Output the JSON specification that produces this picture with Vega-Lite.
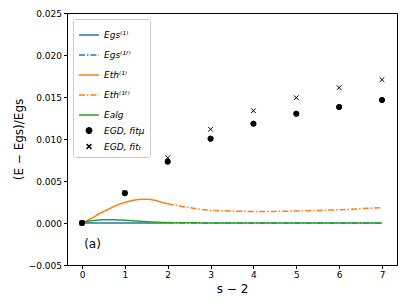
{
  "$schema": "https://vega.github.io/schema/vega-lite/v6.json",
  "width": 330,
  "height": 252,
  "autosize": {"type": "none"},
  "padding": {"left": 67, "top": 13, "right": 10, "bottom": 40},
  "config": {
    "font": "DejaVu Sans",
    "view": {"stroke": "black", "strokeWidth": 1},
    "axis": {
      "grid": false,
      "domainColor": "black",
      "tickColor": "black",
      "labelColor": "black",
      "titleColor": "black",
      "labelFont": "DejaVu Sans",
      "titleFont": "DejaVu Sans",
      "labelFontSize": 9,
      "titleFontSize": 12,
      "titleFontWeight": "normal",
      "tickSize": 3.5,
      "labelPadding": 2
    }
  },
  "datasets": {
    "lines": [
      {"series": "Egs⁽¹⁾", "x": 0, "y": 0},
      {"series": "Egs⁽¹⁾", "x": 2, "y": 0},
      {"series": "Egs⁽¹ᶠ⁾", "x": 2, "y": 0},
      {"series": "Egs⁽¹ᶠ⁾", "x": 7, "y": 0},
      {"series": "Eth⁽¹⁾", "x": 0, "y": 0},
      {"series": "Eth⁽¹⁾", "x": 0.1, "y": 0.00025},
      {"series": "Eth⁽¹⁾", "x": 0.2, "y": 0.0005},
      {"series": "Eth⁽¹⁾", "x": 0.3, "y": 0.0008},
      {"series": "Eth⁽¹⁾", "x": 0.4, "y": 0.0011},
      {"series": "Eth⁽¹⁾", "x": 0.5, "y": 0.00135},
      {"series": "Eth⁽¹⁾", "x": 0.6, "y": 0.0016},
      {"series": "Eth⁽¹⁾", "x": 0.7, "y": 0.00185},
      {"series": "Eth⁽¹⁾", "x": 0.8, "y": 0.0021},
      {"series": "Eth⁽¹⁾", "x": 0.9, "y": 0.0023},
      {"series": "Eth⁽¹⁾", "x": 1.0, "y": 0.00245},
      {"series": "Eth⁽¹⁾", "x": 1.1, "y": 0.0026},
      {"series": "Eth⁽¹⁾", "x": 1.2, "y": 0.00271},
      {"series": "Eth⁽¹⁾", "x": 1.3, "y": 0.00279},
      {"series": "Eth⁽¹⁾", "x": 1.4, "y": 0.00283},
      {"series": "Eth⁽¹⁾", "x": 1.5, "y": 0.00284},
      {"series": "Eth⁽¹⁾", "x": 1.6, "y": 0.0028},
      {"series": "Eth⁽¹⁾", "x": 1.7, "y": 0.0027},
      {"series": "Eth⁽¹⁾", "x": 1.8, "y": 0.00256},
      {"series": "Eth⁽¹⁾", "x": 1.9, "y": 0.00241},
      {"series": "Eth⁽¹⁾", "x": 2.0, "y": 0.00228},
      {"series": "Eth⁽¹ᶠ⁾", "x": 2.0, "y": 0.00228},
      {"series": "Eth⁽¹ᶠ⁾", "x": 2.2, "y": 0.0021},
      {"series": "Eth⁽¹ᶠ⁾", "x": 2.4, "y": 0.0019},
      {"series": "Eth⁽¹ᶠ⁾", "x": 2.6, "y": 0.00175},
      {"series": "Eth⁽¹ᶠ⁾", "x": 2.8, "y": 0.0016},
      {"series": "Eth⁽¹ᶠ⁾", "x": 3.0, "y": 0.0015},
      {"series": "Eth⁽¹ᶠ⁾", "x": 3.5, "y": 0.00142},
      {"series": "Eth⁽¹ᶠ⁾", "x": 4.0, "y": 0.00137},
      {"series": "Eth⁽¹ᶠ⁾", "x": 4.5, "y": 0.00138},
      {"series": "Eth⁽¹ᶠ⁾", "x": 5.0, "y": 0.00143},
      {"series": "Eth⁽¹ᶠ⁾", "x": 5.5, "y": 0.0015},
      {"series": "Eth⁽¹ᶠ⁾", "x": 6.0, "y": 0.00158},
      {"series": "Eth⁽¹ᶠ⁾", "x": 6.5, "y": 0.0017},
      {"series": "Eth⁽¹ᶠ⁾", "x": 7.0, "y": 0.00183},
      {"series": "Ealg", "x": 0, "y": 0},
      {"series": "Ealg", "x": 0.2, "y": 0.00025},
      {"series": "Ealg", "x": 0.4, "y": 0.00037},
      {"series": "Ealg", "x": 0.6, "y": 0.0004},
      {"series": "Ealg", "x": 0.8, "y": 0.00038},
      {"series": "Ealg", "x": 1.0, "y": 0.00033},
      {"series": "Ealg", "x": 1.2, "y": 0.00026},
      {"series": "Ealg", "x": 1.4, "y": 0.00019},
      {"series": "Ealg", "x": 1.6, "y": 0.00013},
      {"series": "Ealg", "x": 1.8, "y": 0.00008},
      {"series": "Ealg", "x": 2.0, "y": 0.00005},
      {"series": "Ealg", "x": 2.5, "y": 0.00002},
      {"series": "Ealg", "x": 3.0, "y": 0.00001},
      {"series": "Ealg", "x": 4.0, "y": 0.00001},
      {"series": "Ealg", "x": 5.0, "y": 0.00001},
      {"series": "Ealg", "x": 6.0, "y": 0.00001},
      {"series": "Ealg", "x": 7.0, "y": 0.00001}
    ],
    "points": [
      {"series": "EGD, fitμ", "x": 0, "y": 0},
      {"series": "EGD, fitμ", "x": 1, "y": 0.00355},
      {"series": "EGD, fitμ", "x": 2, "y": 0.0073},
      {"series": "EGD, fitμ", "x": 3, "y": 0.01004},
      {"series": "EGD, fitμ", "x": 4, "y": 0.01182},
      {"series": "EGD, fitμ", "x": 5, "y": 0.01301},
      {"series": "EGD, fitμ", "x": 6, "y": 0.01381},
      {"series": "EGD, fitμ", "x": 7, "y": 0.01464},
      {"series": "EGD, fitₜ", "x": 0, "y": 0},
      {"series": "EGD, fitₜ", "x": 1, "y": 0.0036},
      {"series": "EGD, fitₜ", "x": 2, "y": 0.00777},
      {"series": "EGD, fitₜ", "x": 3, "y": 0.01115},
      {"series": "EGD, fitₜ", "x": 4, "y": 0.01337},
      {"series": "EGD, fitₜ", "x": 5, "y": 0.01492},
      {"series": "EGD, fitₜ", "x": 6, "y": 0.01611},
      {"series": "EGD, fitₜ", "x": 7, "y": 0.01706}
    ],
    "labels": [
      {"label": "(a)", "x": 0.05, "y": -0.0025}
    ]
  },
  "encoding": {
    "x": {
      "field": "x", "type": "quantitative",
      "scale": {"domain": [-0.35, 7.35], "nice": false, "zero": false},
      "axis": {"values": [0, 1, 2, 3, 4, 5, 6, 7], "title": "s − 2", "titlePadding": 4, "format": "d"}
    },
    "y": {
      "field": "y", "type": "quantitative",
      "scale": {"domain": [-0.005, 0.025], "nice": false, "zero": false},
      "axis": {"values": [-0.005, 0, 0.005, 0.01, 0.015, 0.02, 0.025], "format": ".3f", "title": "(E − Egs)/Egs", "titlePadding": 3}
    }
  },
  "layer": [
    {
      "data": {"name": "lines"},
      "mark": {"type": "line", "strokeWidth": 1.5},
      "encoding": {
        "color": {
          "field": "series", "type": "nominal",
          "scale": {
            "domain": ["Egs⁽¹⁾", "Egs⁽¹ᶠ⁾", "Eth⁽¹⁾", "Eth⁽¹ᶠ⁾", "Ealg", "EGD, fitμ", "EGD, fitₜ"],
            "range": ["#1f77b4", "#1f77b4", "#ff7f0e", "#ff7f0e", "#2ca02c", "black", "black"]
          },
          "legend": {
            "title": null,
            "orient": "top-left",
            "offset": 6,
            "strokeColor": "#cccccc",
            "fillColor": "white",
            "cornerRadius": 2,
            "padding": 5,
            "labelFontSize": 9,
            "labelFontStyle": "italic",
            "labelColor": "black",
            "rowPadding": 4,
            "symbolStrokeWidth": 1.5,
            "encode": {
              "symbols": {"update": {"fill": {"scale": "color", "field": "value"}, "stroke": {"scale": "color", "field": "value"}}}
            }
          }
        },
        "strokeDash": {
          "field": "series", "type": "nominal",
          "scale": {
            "domain": ["Egs⁽¹⁾", "Egs⁽¹ᶠ⁾", "Eth⁽¹⁾", "Eth⁽¹ᶠ⁾", "Ealg", "EGD, fitμ", "EGD, fitₜ"],
            "range": [[1, 0], [6, 2, 1.5, 2], [1, 0], [6, 2, 1.5, 2], [1, 0], [1, 0], [1, 0]]
          }
        }
      }
    },
    {
      "data": {"name": "points"},
      "mark": {"type": "point", "filled": true, "opacity": 1, "stroke": "black", "strokeWidth": 1},
      "encoding": {
        "color": {"field": "series", "type": "nominal"},
        "shape": {
          "field": "series", "type": "nominal",
          "scale": {
            "domain": ["Egs⁽¹⁾", "Egs⁽¹ᶠ⁾", "Eth⁽¹⁾", "Eth⁽¹ᶠ⁾", "Ealg", "EGD, fitμ", "EGD, fitₜ"],
            "range": ["stroke", "stroke", "stroke", "stroke", "stroke", "circle", "M-1,-1L1,1M-1,1L1,-1"]
          }
        },
        "size": {
          "field": "series", "type": "nominal",
          "scale": {
            "type": "ordinal",
            "domain": ["Egs⁽¹⁾", "Egs⁽¹ᶠ⁾", "Eth⁽¹⁾", "Eth⁽¹ᶠ⁾", "Ealg", "EGD, fitμ", "EGD, fitₜ"],
            "range": [400, 400, 400, 400, 400, 28, 22]
          }
        }
      }
    },
    {
      "data": {"name": "labels"},
      "mark": {"type": "text", "align": "left", "baseline": "middle", "fontSize": 12, "font": "DejaVu Sans", "color": "black"},
      "encoding": {"text": {"field": "label"}}
    }
  ]
}
